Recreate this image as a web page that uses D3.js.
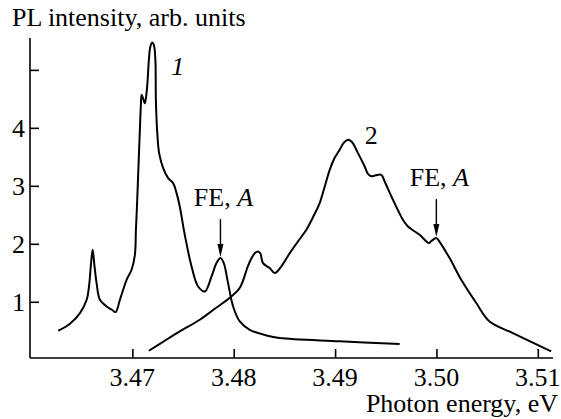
<!DOCTYPE html>
<html>
<head>
<meta charset="utf-8">
<script src="https://cdn.jsdelivr.net/npm/d3@7"></script>
<style>
  html, body { margin: 0; padding: 0; background: #fff; }
</style>
</head>
<body>
<svg id="chart" width="561" height="419" font-family="'Liberation Serif', 'Times New Roman', 'DejaVu Serif', serif"></svg>
<script>
// Photoluminescence spectra, photon energy (eV) vs intensity (arb. units)
const energy1 = [3.46269, 3.46384, 3.46483, 3.46549, 3.46574, 3.46591, 3.46608, 3.46625, 3.46647, 3.46680,
  3.46746, 3.46798, 3.46834, 3.46877, 3.46943, 3.46992, 3.47025, 3.47035, 3.47044, 3.47059,
  3.47074, 3.47084, 3.47091, 3.47104, 3.47123, 3.47143, 3.47163, 3.47177, 3.47195, 3.47212,
  3.47227, 3.47232, 3.47244, 3.47264, 3.47304, 3.47353, 3.47402, 3.47436, 3.47468, 3.47517,
  3.47584, 3.47649, 3.47715, 3.47781, 3.47830, 3.47869, 3.47902, 3.47944, 3.47994, 3.48060,
  3.48158, 3.48323, 3.48454, 3.49045, 3.49637];
const intensity1 = [0.500, 0.621, 0.805, 1.034, 1.293, 1.638, 1.897, 1.638, 1.322, 1.034,
  0.919, 0.862, 0.822, 1.034, 1.379, 1.552, 1.810, 2.241, 2.586, 3.276,
  3.966, 4.397, 4.569, 4.517, 4.426, 4.655, 5.172, 5.397, 5.471, 5.431,
  5.172, 4.483, 3.966, 3.564, 3.305, 3.133, 3.047, 2.874, 2.638, 2.155,
  1.609, 1.264, 1.178, 1.436, 1.667, 1.753, 1.667, 1.322, 0.919, 0.660,
  0.517, 0.419, 0.374, 0.319, 0.271];

const energy2 = [3.47163, 3.47320, 3.47468, 3.47665, 3.47813, 3.47961, 3.48060, 3.48141, 3.48178, 3.48212,
  3.48240, 3.48262, 3.48289, 3.48355, 3.48405, 3.48474, 3.48553, 3.48631, 3.48717, 3.48779,
  3.48848, 3.48897, 3.48947, 3.48996, 3.49045, 3.49085, 3.49127, 3.49164, 3.49226, 3.49292,
  3.49324, 3.49361, 3.49400, 3.49456, 3.49489, 3.49571, 3.49669, 3.49719, 3.49834, 3.49926,
  3.49952, 3.49999, 3.50031, 3.50130, 3.50245, 3.50393, 3.50524, 3.50754, 3.51132];
const intensity2 = [0.155, 0.328, 0.488, 0.690, 0.879, 1.069, 1.241, 1.621, 1.759, 1.845,
  1.867, 1.836, 1.667, 1.581, 1.495, 1.621, 1.840, 2.034, 2.241, 2.448,
  2.702, 2.983, 3.276, 3.483, 3.621, 3.741, 3.793, 3.759, 3.564, 3.333,
  3.207, 3.164, 3.181, 3.190, 3.074, 2.759, 2.414, 2.298, 2.155, 2.012,
  2.052, 2.098, 2.034, 1.753, 1.379, 0.978, 0.660, 0.460, 0.143];

const xTicks = [3.47, 3.48, 3.49, 3.50, 3.51];
const yTicks = [1, 2, 3, 4, 5];
const yTickLabels = ["1", "2", "3", "4", ""];

// Free-exciton markers: peak energies and heights on each spectrum
const feEnergy = [3.47869, 3.49999];
const feIntensity = [1.753, 2.098];

const FONT = 26;
const svg = d3.select("#chart");
const x = d3.scaleLinear().domain([3.4599, 3.5115]).range([30, 553]);
const y = d3.scaleLinear().domain([0.03, 5.55]).range([358, 38]);

// axes, ticks pointing inward
const xAxis = d3.axisTop(x).tickValues(xTicks).tickSize(9).tickFormat("");
svg.append("g").attr("transform", `translate(0,${y.range()[0]})`).call(xAxis)
  .call(g => g.select(".domain").attr("d", `M${x.range()[0]},0H${x.range()[1]}`));
const yAxis = d3.axisRight(y).tickValues(yTicks).tickSize(9).tickFormat("");
svg.append("g").attr("transform", `translate(${x.range()[0]},0)`).call(yAxis)
  .call(g => g.select(".domain").attr("d", `M0,${y.range()[0]}V${y.range()[1]}`));
svg.selectAll(".domain, .tick line").attr("stroke", "#000").attr("stroke-width", 1.6);

svg.append("g").selectAll("text").data(xTicks).join("text")
  .attr("x", d => x(d)).attr("y", 386)
  .attr("text-anchor", "middle").attr("font-size", FONT)
  .text(d => d.toFixed(2));
svg.append("g").selectAll("text").data(yTicks).join("text")
  .attr("x", 25).attr("y", d => y(d)).attr("dy", "0.34em")
  .attr("text-anchor", "end").attr("font-size", FONT)
  .text((d, i) => yTickLabels[i]);

svg.append("text").attr("x", 12).attr("y", 26).attr("font-size", FONT)
  .text("PL intensity, arb. units");
svg.append("text").attr("x", 558).attr("y", 412).attr("text-anchor", "end").attr("font-size", FONT)
  .text("Photon energy, eV");

// spectra
const line = d3.line().x(d => x(d[0])).y(d => y(d[1])).curve(d3.curveCatmullRom.alpha(0.5));
[[energy1, intensity1], [energy2, intensity2]].forEach(([e, v]) => {
  svg.append("path")
    .attr("d", line(e.map((d, i) => [d, v[i]])))
    .attr("fill", "none").attr("stroke", "#000").attr("stroke-width", 2)
    .attr("stroke-linejoin", "round");
});

// curve numbers
svg.append("text").attr("x", x(3.47448)).attr("y", y(4.91)).attr("font-size", FONT)
  .attr("font-style", "italic").attr("text-anchor", "middle").text("1");
svg.append("text").attr("x", x(3.49292)).attr("y", y(3.724)).attr("font-size", FONT).text("2");

// FE, A labels with arrows
feEnergy.forEach((e, i) => {
  const px = x(e), tip = y(feIntensity[i]) - 1;
  const t = svg.append("text").attr("x", px + 3).attr("y", tip - 51)
    .attr("text-anchor", "middle").attr("font-size", FONT);
  t.append("tspan").text("FE, ");
  t.append("tspan").attr("font-style", "italic").text("A");
  svg.append("line").attr("x1", px).attr("x2", px).attr("y1", tip - 38).attr("y2", tip - 8)
    .attr("stroke", "#000").attr("stroke-width", 1.4);
  svg.append("path").attr("d", `M${px - 3},${tip - 13}L${px + 3},${tip - 13}L${px},${tip}Z`).attr("fill", "#000");
});
</script>
</body>
</html>
